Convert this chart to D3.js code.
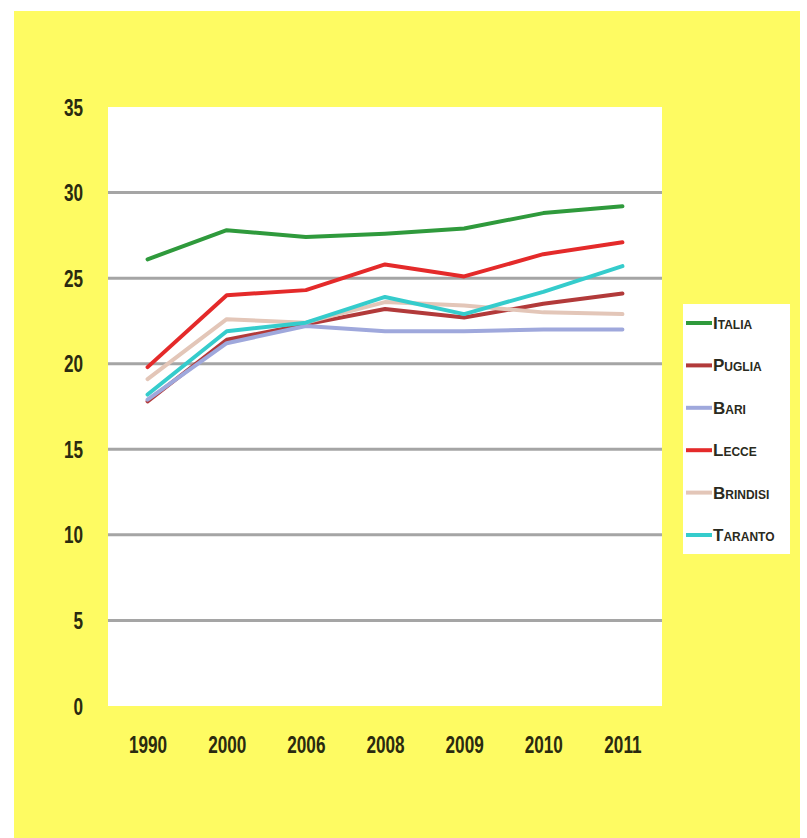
<!DOCTYPE html>
<html><head><meta charset="utf-8">
<script src="https://cdn.jsdelivr.net/npm/d3@7"></script>
<style>html,body{margin:0;padding:0;background:#fff;}</style>
</head><body>
<script>
const years = ["1990","2000","2006","2008","2009","2010","2011"];
const seriesNames = ["Italia","Puglia","Bari","Lecce","Brindisi","Taranto"];
const italia   = [26.1, 27.8, 27.4, 27.6, 27.9, 28.8, 29.2];
const puglia   = [17.8, 21.4, 22.3, 23.2, 22.7, 23.5, 24.1];
const bari     = [17.9, 21.2, 22.2, 21.9, 21.9, 22.0, 22.0];
const lecce    = [19.8, 24.0, 24.3, 25.8, 25.1, 26.4, 27.1];
const brindisi = [19.1, 22.6, 22.4, 23.6, 23.4, 23.0, 22.9];
const taranto  = [18.2, 21.9, 22.4, 23.9, 22.9, 24.2, 25.7];
const yTicks = [0,5,10,15,20,25,30,35];
const colors = ["#2f9a3c","#b23a3a","#9fa8dc","#e42a2a","#e3c6b8","#35cccc"];

const values = [italia, puglia, bari, lecce, brindisi, taranto];
const W = 807, H = 838;
const svg = d3.select("body").append("svg").attr("width", W).attr("height", H);

svg.append("rect").attr("x",14).attr("y",11).attr("width",786).attr("height",827).attr("fill","#fefb62");

const plot = {left:108, right:662, top:107, bottom:706};
const x = d3.scalePoint().domain(years).range([plot.left, plot.right]).padding(0.5);
const y = d3.scaleLinear().domain([0,35]).range([plot.bottom, plot.top]);

svg.append("rect").attr("x",plot.left).attr("y",plot.top)
  .attr("width",plot.right-plot.left).attr("height",plot.bottom-plot.top).attr("fill","#ffffff");

// gridlines
svg.append("g").selectAll("line").data(yTicks.filter(t=>t>0 && t<35)).join("line")
  .attr("x1",plot.left).attr("x2",plot.right)
  .attr("y1",d=>y(d)).attr("y2",d=>y(d))
  .attr("stroke","#a5a5a5").attr("stroke-width",3);

const fontFam = "'Liberation Sans','Arial',sans-serif";

// y axis
const yAxis = d3.axisLeft(y).tickValues(yTicks).tickSize(0).tickPadding(0);
const gy = svg.append("g").attr("transform",`translate(${plot.left-25},0)`).call(yAxis);
gy.select(".domain").remove();
gy.selectAll("text").attr("font-family",fontFam).attr("font-weight","bold")
  .attr("font-size",22).attr("fill","#2a2a10").attr("dy","0.35em")
  .attr("transform","scale(0.78,1.05)");

// x axis
const xAxis = d3.axisBottom(x).tickSize(0).tickPadding(0);
const gx = svg.append("g").attr("transform",`translate(0,${plot.bottom+31})`).call(xAxis);
gx.select(".domain").remove();
gx.selectAll("text").attr("font-family",fontFam).attr("font-weight","bold")
  .attr("font-size",22).attr("fill","#2a2a10").attr("dy","0.71em")
  .attr("transform","scale(0.78,1.05)");

// lines
const line = d3.line().x((d,i)=>x(years[i])).y(d=>y(d));
svg.append("g").selectAll("path").data(values).join("path")
  .attr("d", line).attr("fill","none")
  .attr("stroke",(d,i)=>colors[i]).attr("stroke-width",4)
  .attr("stroke-linejoin","round").attr("stroke-linecap","round");

// legend
const lg = svg.append("g");
lg.append("rect").attr("x",683).attr("y",304).attr("width",107).attr("height",250).attr("fill","#ffffff");
const ly = d3.scalePoint().domain(seriesNames).range([323,535]);
const items = lg.selectAll("g").data(seriesNames).join("g")
  .attr("transform",d=>`translate(0,${ly(d)})`);
items.append("line").attr("x1",686).attr("x2",712).attr("y1",0).attr("y2",0)
  .attr("stroke",(d,i)=>colors[i]).attr("stroke-width",4);
items.append("text").attr("x",713).attr("y",0).attr("dy","0.35em")
  .attr("font-family",fontFam).attr("font-weight","bold").attr("font-size",17)
  .attr("font-variant","small-caps").attr("fill","#2a2a20")
  .text(d=>d);
</script>
</body></html>
